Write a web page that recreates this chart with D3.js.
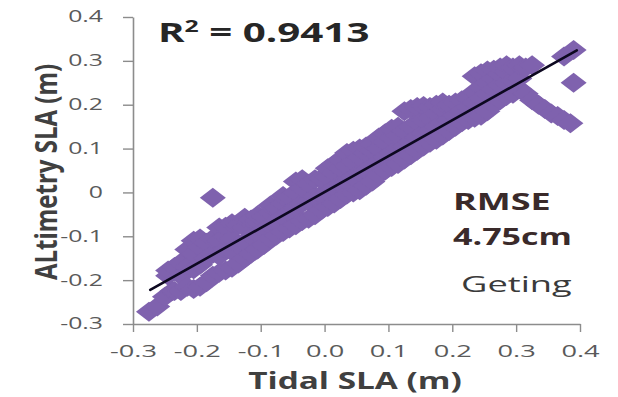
<!DOCTYPE html>
<html>
<head>
<meta charset="utf-8">
<script src="https://cdn.jsdelivr.net/npm/d3@7"></script>
<style>
  html, body { margin: 0; padding: 0; background: #fff; }
  svg { display: block; font-family: "Open Sans", "Liberation Sans", sans-serif; }
</style>
</head>
<body>
<svg id="chart" width="618" height="397"></svg>
<script>
// Tide-gauge SLA (x) against altimetry SLA (y), metres
const tidalSLA = [
  -0.275, -0.262, -0.25, -0.238,
  -0.245, -0.245,
  -0.235, -0.235,
  -0.225, -0.225, -0.225,
  -0.215, -0.215, -0.215,
  -0.205, -0.205, -0.205, -0.205,
  -0.195, -0.195, -0.195, -0.195,
  -0.185, -0.185, -0.185,
  -0.175, -0.175, -0.175, -0.175,
  -0.165, -0.165, -0.165, -0.165,
  -0.155, -0.155, -0.155, -0.155,
  -0.145, -0.145, -0.145, -0.145,
  -0.135, -0.135, -0.135,
  -0.125, -0.125, -0.125, -0.125,
  -0.115, -0.115, -0.115,
  -0.105, -0.105, -0.105, -0.105,
  -0.095, -0.095, -0.095,
  -0.085, -0.085, -0.085, -0.085,
  -0.075, -0.075, -0.075,
  -0.065, -0.065, -0.065, -0.065,
  -0.055, -0.055, -0.055,
  -0.045, -0.045, -0.045, -0.045,
  -0.035, -0.035, -0.035, -0.035,
  -0.025, -0.025, -0.025,
  -0.015, -0.015, -0.015,
  -0.005, -0.005, -0.005, -0.005,
  0.005, 0.005, 0.005, 0.005,
  0.015, 0.015, 0.015, 0.015,
  0.025, 0.025, 0.025, 0.025,
  0.035, 0.035, 0.035, 0.035,
  0.045, 0.045, 0.045, 0.045,
  0.055, 0.055, 0.055, 0.055,
  0.065, 0.065, 0.065, 0.065,
  0.075, 0.075, 0.075, 0.075,
  0.085, 0.085, 0.085, 0.085,
  0.095, 0.095, 0.095, 0.095,
  0.105, 0.105, 0.105, 0.105,
  0.115, 0.115, 0.115, 0.115,
  0.125, 0.125, 0.125, 0.125,
  0.135, 0.135, 0.135, 0.135,
  0.145, 0.145, 0.145, 0.145,
  0.155, 0.155, 0.155, 0.155,
  0.165, 0.165, 0.165, 0.165,
  0.175, 0.175, 0.175, 0.175,
  0.185, 0.185, 0.185, 0.185,
  0.195, 0.195, 0.195,
  0.205, 0.205, 0.205,
  0.215, 0.215, 0.215,
  0.225, 0.225, 0.225,
  0.235, 0.235, 0.235, 0.235,
  0.245, 0.245, 0.245, 0.245,
  0.255, 0.255, 0.255, 0.255,
  0.265, 0.265, 0.265, 0.265,
  0.275, 0.275, 0.275, 0.275,
  0.285, 0.285, 0.285, 0.285,
  0.295, 0.295, 0.295,
  0.305, 0.305, 0.305,
  0.315, 0.315, 0.325,
  0.325, 0.335, 0.345, 0.355, 0.365,
  0.375, 0.375, 0.385,
  0.39, 0.39
];
const altimetrySLA = [
  -0.272, -0.26, -0.238, -0.225,
  -0.19, -0.178,
  -0.225, -0.17,
  -0.225, -0.19, -0.16,
  -0.215, -0.17, -0.13,
  -0.22, -0.175, -0.14, -0.11,
  -0.215, -0.165, -0.125, -0.105,
  -0.205, -0.15, -0.115,
  -0.19, -0.14, -0.105, -0.012,
  -0.183, -0.145, -0.11, -0.08,
  -0.178, -0.13, -0.1, -0.078,
  -0.172, -0.135, -0.105, -0.07,
  -0.162, -0.12, -0.075,
  -0.15, -0.115, -0.08, -0.058,
  -0.14, -0.1, -0.062,
  -0.13, -0.095, -0.065, -0.052,
  -0.12, -0.085, -0.055,
  -0.105, -0.075, -0.045, -0.03,
  -0.098, -0.065, -0.035,
  -0.09, -0.055, -0.025, -0.008,
  -0.082, -0.045, -0.01,
  -0.075, -0.035, 0.0, 0.025,
  -0.065, -0.025, 0.01, 0.03,
  -0.06, -0.02, 0.02,
  -0.052, -0.01, 0.03,
  -0.04, -0.005, 0.03, 0.032,
  -0.033, 0.0, 0.035, 0.055,
  -0.025, 0.01, 0.045, 0.065,
  -0.015, 0.02, 0.055, 0.075,
  -0.005, 0.025, 0.06, 0.09,
  0.0, 0.035, 0.07, 0.095,
  0.005, 0.045, 0.08, 0.1,
  0.015, 0.05, 0.09, 0.105,
  0.025, 0.06, 0.095, 0.11,
  0.04, 0.07, 0.1, 0.125,
  0.05, 0.08, 0.115, 0.135,
  0.058, 0.09, 0.125, 0.145,
  0.065, 0.1, 0.13, 0.15,
  0.075, 0.105, 0.14, 0.185,
  0.085, 0.115, 0.15, 0.19,
  0.095, 0.125, 0.16, 0.195,
  0.105, 0.135, 0.165, 0.197,
  0.113, 0.14, 0.17, 0.195,
  0.12, 0.15, 0.18, 0.2,
  0.13, 0.16, 0.19, 0.205,
  0.14, 0.165, 0.2,
  0.15, 0.175, 0.205,
  0.16, 0.185, 0.21,
  0.165, 0.195, 0.215,
  0.17, 0.205, 0.23, 0.265,
  0.175, 0.215, 0.24, 0.272,
  0.185, 0.225, 0.25, 0.278,
  0.2, 0.235, 0.26, 0.28,
  0.21, 0.245, 0.27, 0.285,
  0.22, 0.25, 0.275, 0.29,
  0.225, 0.255, 0.285,
  0.235, 0.26, 0.29,
  0.225, 0.285, 0.29,
  0.21, 0.2, 0.19, 0.18, 0.174,
  0.165, 0.31, 0.158,
  0.25, 0.325
];

// Linear trend line (y = slope * x + intercept) over the tidal range
const trendSlope = 0.818;
const trendIntercept = 0.001;
const trendRange = [-0.273, 0.395];

const xTicks = [-0.3, -0.2, -0.1, 0.0, 0.1, 0.2, 0.3, 0.4];
const xTickLabels = ["-0.3", "-0.2", "-0.1", "0.0", "0.1", "0.2", "0.3", "0.4"];
const yTicks = [-0.3, -0.2, -0.1, 0, 0.1, 0.2, 0.3, 0.4];
const yTickLabels = ["-0.3", "-0.2", "-0.1", "0", "0.1", "0.2", "0.3", "0.4"];

const xTitle = "Tidal SLA (m)";
const yTitle = "ALtimetry SLA (m)";
const r2Text = "0.9413";
const rmseLines = ["RMSE", "4.75cm"];
const siteName = "Geting";

const svg = d3.select("#chart");
const plot = { left: 133, right: 580, top: 17, bottom: 324 };

const x = d3.scaleLinear().domain([-0.3, 0.4]).range([plot.left, plot.right]);
const y = d3.scaleLinear().domain([-0.3, 0.4]).range([plot.bottom, plot.top]);

const axisColor = "#8c8c8c";
const labelColor = "#5a5a5a";

// points (flattened diamonds)
const points = tidalSLA.map((t, i) => ({ t, a: altimetrySLA[i] }));
const hw = 13, hh = 10;
const diamond = `M0,${-hh}L${hw},0L0,${hh}L${-hw},0Z`;
svg.append("g")
  .selectAll("path")
  .data(points)
  .join("path")
  .attr("d", diamond)
  .attr("transform", d => `translate(${x(d.t)},${y(d.a)})`)
  .attr("fill", "#7f62ae");

// trend line
svg.append("line")
  .attr("x1", x(trendRange[0]))
  .attr("y1", y(trendSlope * trendRange[0] + trendIntercept))
  .attr("x2", x(trendRange[1]))
  .attr("y2", y(trendSlope * trendRange[1] + trendIntercept))
  .attr("stroke", "#0d0820")
  .attr("stroke-width", 2.6)
  .attr("stroke-linecap", "round");

// axes
const xAxis = d3.axisBottom(x).tickValues(xTicks)
  .tickFormat((d, i) => xTickLabels[i]).tickSize(8).tickSizeOuter(0).tickPadding(13);
const yAxis = d3.axisLeft(y).tickValues(yTicks)
  .tickFormat((d, i) => yTickLabels[i]).tickSize(10).tickSizeOuter(0).tickPadding(20);

const gx = svg.append("g").attr("transform", `translate(0,${plot.bottom})`).call(xAxis);
const gy = svg.append("g").attr("transform", `translate(${plot.left},0)`).call(yAxis);

[gx, gy].forEach(g => {
  g.select(".domain").attr("stroke", axisColor).attr("stroke-width", 1.6);
  g.selectAll(".tick line").attr("stroke", axisColor).attr("stroke-width", 1.4);
  g.selectAll(".tick text")
    .attr("fill", labelColor)
    .attr("font-family", "'Open Sans', sans-serif");
});
gx.selectAll(".tick text")
  .attr("font-size", 16.5)
  .attr("transform", "scale(1.65,1)")
  .attr("dy", "0.72em");
gy.selectAll(".tick text").attr("font-size", 15.5).each(function () {
  const t = d3.select(this);
  t.attr("x", +t.attr("x") / 1.6).attr("transform", "scale(1.6,1)");
});

// horizontally stretched lettering
function label(txt, px, py, size, weight, color, sx, rotate) {
  const scale = rotate ? `rotate(${rotate}) scale(1,${sx})` : `scale(${sx},1)`;
  const g = svg.append("g").attr("transform", `translate(${px},${py}) ${scale}`);
  return g.append("text")
    .attr("text-anchor", rotate ? "middle" : "start")
    .attr("font-size", size)
    .attr("font-weight", weight)
    .attr("fill", color)
    .text(txt);
}

label(xTitle, 355, 389, 23, 700, "#404040", 1.45).attr("text-anchor", "middle");
label(yTitle, 57, 172, 24, 700, "#404040", 1.3, -90);

// R² annotation
const r2 = label("", 158, 42, 26, 700, "#262626", 1.55);
r2.append("tspan").text("R");
r2.append("tspan").attr("font-size", 16).attr("dy", -10).text("2");
r2.append("tspan").attr("dy", 10).text(" = " + r2Text);

label(rmseLines[0], 453, 210, 24, 700, "#3a2a2a", 1.5);
label(rmseLines[1], 453, 245, 23, 700, "#3a2a2a", 1.48);
label(siteName, 461, 292, 22, 400, "#3a3a3a", 1.65);
</script>
</body>
</html>
